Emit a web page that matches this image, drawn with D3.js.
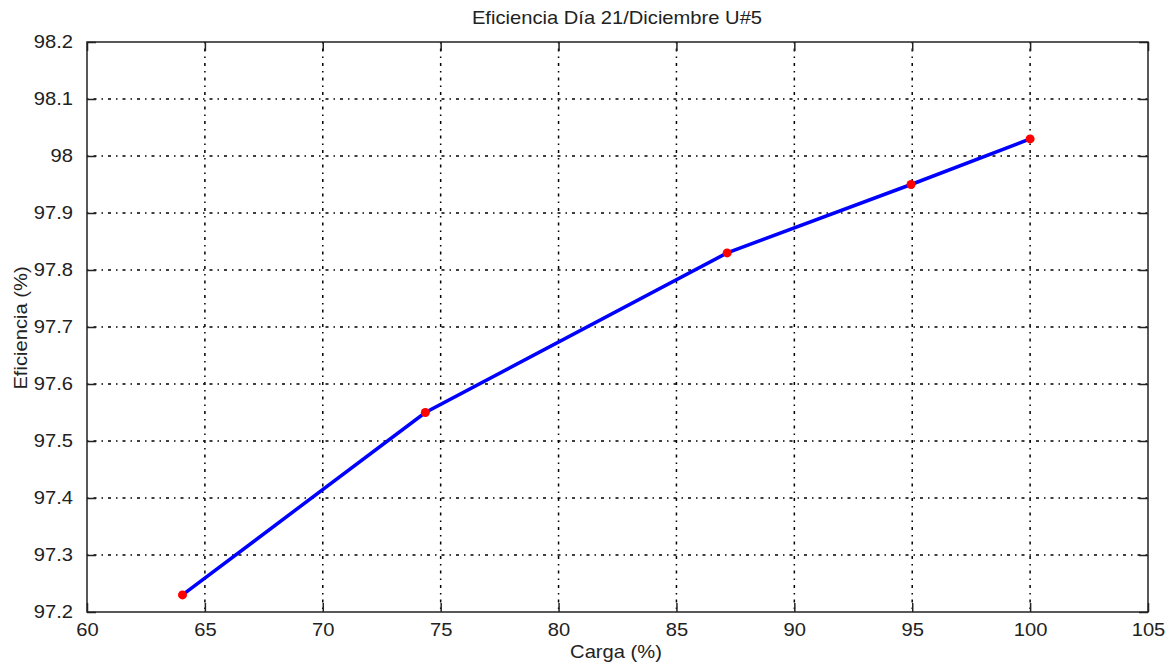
<!DOCTYPE html>
<html><head><meta charset="utf-8">
<script src="https://cdn.jsdelivr.net/npm/d3@7"></script>
<style>body{margin:0;background:#fff;} text{font-family:"Liberation Sans",Arial,sans-serif;}</style>
</head><body>
<svg id="c" width="1174" height="665"></svg>
<script>
const carga = [64.05, 74.35, 87.15, 94.95, 100];
const eficiencia = [97.23, 97.55, 97.83, 97.95, 98.03];
const xTicks = [60, 65, 70, 75, 80, 85, 90, 95, 100, 105];
const yTicks = [97.2, 97.3, 97.4, 97.5, 97.6, 97.7, 97.8, 97.9, 98, 98.1, 98.2];
const title = "Eficiencia Día 21/Diciembre U#5";
const xLabel = "Carga (%)";
const yLabel = "Eficiencia (%)";

const SX = 1.12, FS = 18, TXT = "#222";
const m = {l: 87, t: 42, r: 1148, b: 612};
const svg = d3.select("#c");
const x = d3.scaleLinear().domain([60, 105]).range([m.l, m.r]);
const y = d3.scaleLinear().domain([97.2, 98.2]).range([m.b, m.t]);

// grid
const g = svg.append("g");
g.selectAll(".vg").data(xTicks.slice(1, -1)).join("line")
  .attr("x1", d => x(d)).attr("x2", d => x(d)).attr("y1", m.t).attr("y2", m.b)
  .attr("stroke", "#000").attr("stroke-width", 1.5).attr("stroke-dasharray", "1.5,5,3,5");
g.selectAll(".hg").data(yTicks.slice(1, -1)).join("line")
  .attr("y1", d => y(d)).attr("y2", d => y(d)).attr("x1", m.l).attr("x2", m.r)
  .attr("stroke", "#000").attr("stroke-width", 1.5).attr("stroke-dasharray", "1.5,5,3,5");

// axes
const fmt = d => d3.format("")(+d.toFixed(1));
const ax = (gen, tr) => {
  const a = svg.append("g").attr("transform", tr).call(gen);
  a.select(".domain").remove();
  a.selectAll("line").attr("stroke", "#222").attr("stroke-width", 1.5);
  a.selectAll("text").attr("font-size", FS).attr("fill", TXT);
  return a;
};
const bx = ax(d3.axisBottom(x).tickValues(xTicks).tickSize(-9).tickPadding(11).tickFormat(fmt), `translate(0,${m.b})`);
bx.selectAll("text").attr("transform", `scale(${SX},1)`);
ax(d3.axisTop(x).tickValues(xTicks).tickSize(-9).tickFormat(""), `translate(0,${m.t})`);
const ly = ax(d3.axisLeft(y).tickValues(yTicks).tickSize(-9).tickPadding(14).tickFormat(fmt), `translate(${m.l},0)`);
ly.selectAll("text").attr("x", -14 / SX).attr("transform", `scale(${SX},1)`);
ax(d3.axisRight(y).tickValues(yTicks).tickSize(-9).tickFormat(""), `translate(${m.r},0)`);

svg.append("rect").attr("x", m.l).attr("y", m.t).attr("width", m.r - m.l).attr("height", m.b - m.t)
  .attr("fill", "none").attr("stroke", "#222").attr("stroke-width", 1.5);

// data
const pts = carga.map((c, i) => [c, eficiencia[i]]);
svg.append("path").datum(pts)
  .attr("d", d3.line().x(d => x(d[0])).y(d => y(d[1])))
  .attr("fill", "none").attr("stroke", "#0000ff").attr("stroke-width", 3.5);
svg.selectAll(".pt").data(pts).join("circle")
  .attr("cx", d => x(d[0])).attr("cy", d => y(d[1])).attr("r", 4.5).attr("fill", "#ff0000");

// labels
svg.append("text").attr("transform", `translate(617,24) scale(${SX},1)`).attr("text-anchor", "middle").attr("font-size", FS).attr("fill", TXT).text(title);
svg.append("text").attr("transform", `translate(616,658) scale(${SX},1)`).attr("text-anchor", "middle").attr("font-size", FS).attr("fill", TXT).text(xLabel);
svg.append("text").attr("transform", `translate(27,328) rotate(-90) scale(${SX},1)`).attr("text-anchor", "middle").attr("font-size", FS).attr("fill", TXT).text(yLabel);
</script>
</body></html>
